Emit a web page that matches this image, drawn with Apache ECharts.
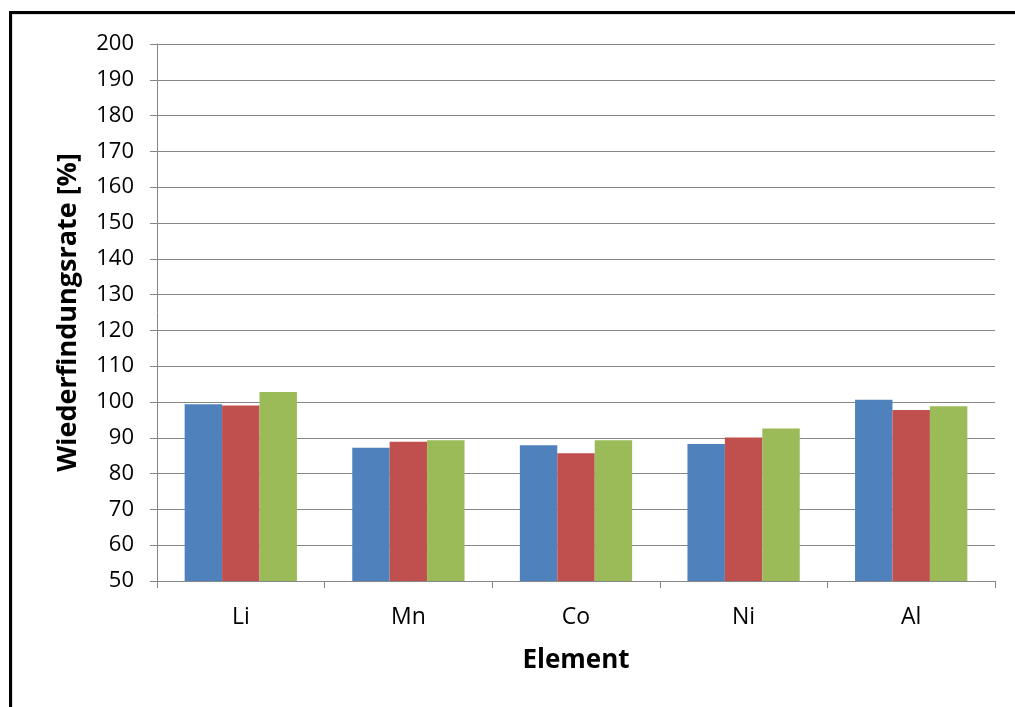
<!DOCTYPE html>
<html>
<head>
<meta charset="utf-8">
<script src="https://cdn.jsdelivr.net/npm/echarts@6/dist/echarts.min.js"></script>
<style>
  html, body { margin: 0; padding: 0; background: #fff; }
  #chart { width: 1015px; height: 707px; }
</style>
</head>
<body>
<div id="chart"></div>
<script>
// Recovery rates per element, three measurement series
const categories = ['Li', 'Mn', 'Co', 'Ni', 'Al'];
const series1 = [99.4, 87.2, 87.9, 88.3, 100.6];
const series2 = [99.0, 88.9, 85.7, 90.1, 97.8];
const series3 = [102.8, 89.3, 89.3, 92.6, 98.8];
const seriesColors = ['#4F81BD', '#C0504D', '#9BBB59'];

const FONT = '"Open Sans", "Liberation Sans", sans-serif';

const chart = echarts.init(document.getElementById('chart'), null, { renderer: 'canvas' });

function barSeries(data, color) {
  return {
    type: 'bar',
    data: data,
    barGap: '0%',
    barCategoryGap: '33%',
    itemStyle: { color: color },
    emphasis: { disabled: true }
  };
}

chart.setOption({
  animation: false,
  grid: { left: 157, right: 20, top: 44, bottom: 126, containLabel: false },
  graphic: [
    // outer chart frame
    { type: 'rect', shape: { x: 12, y: 14, width: 1200, height: 900 },
      style: { fill: 'none', stroke: '#bfbfbf', lineWidth: 1 } },
    { type: 'rect', shape: { x: 10.5, y: 12.5, width: 1200, height: 900 },
      style: { fill: 'none', stroke: '#000', lineWidth: 3 } }
  ],
  xAxis: {
    type: 'category',
    data: categories,
    name: 'Element',
    nameLocation: 'middle',
    nameGap: 67,
    nameTextStyle: { fontFamily: FONT, fontSize: 26, fontWeight: 'bold', color: '#000' },
    axisLine: { lineStyle: { color: '#868686', width: 1 } },
    axisTick: { show: true, length: 7, inside: false, lineStyle: { color: '#868686' } },
    axisLabel: { fontFamily: FONT, fontSize: 23, color: '#000', margin: 25 },
    splitLine: { show: false }
  },
  yAxis: {
    type: 'value',
    min: 50,
    max: 200,
    interval: 10,
    name: 'Wiederfindungsrate [%]',
    nameLocation: 'middle',
    nameGap: 75,
    nameRotate: 90,
    nameTextStyle: { fontFamily: FONT, fontSize: 27, fontWeight: 'bold', color: '#000' },
    axisLine: { show: true, lineStyle: { color: '#868686', width: 1 } },
    axisTick: { show: true, length: 7, inside: false, lineStyle: { color: '#868686' } },
    axisLabel: { fontFamily: FONT, fontSize: 22, color: '#000', margin: 23 },
    splitLine: { show: true, lineStyle: { color: '#868686', width: 1 } }
  },
  series: [
    barSeries(series1, seriesColors[0]),
    barSeries(series2, seriesColors[1]),
    barSeries(series3, seriesColors[2])
  ]
});
</script>
</body>
</html>
